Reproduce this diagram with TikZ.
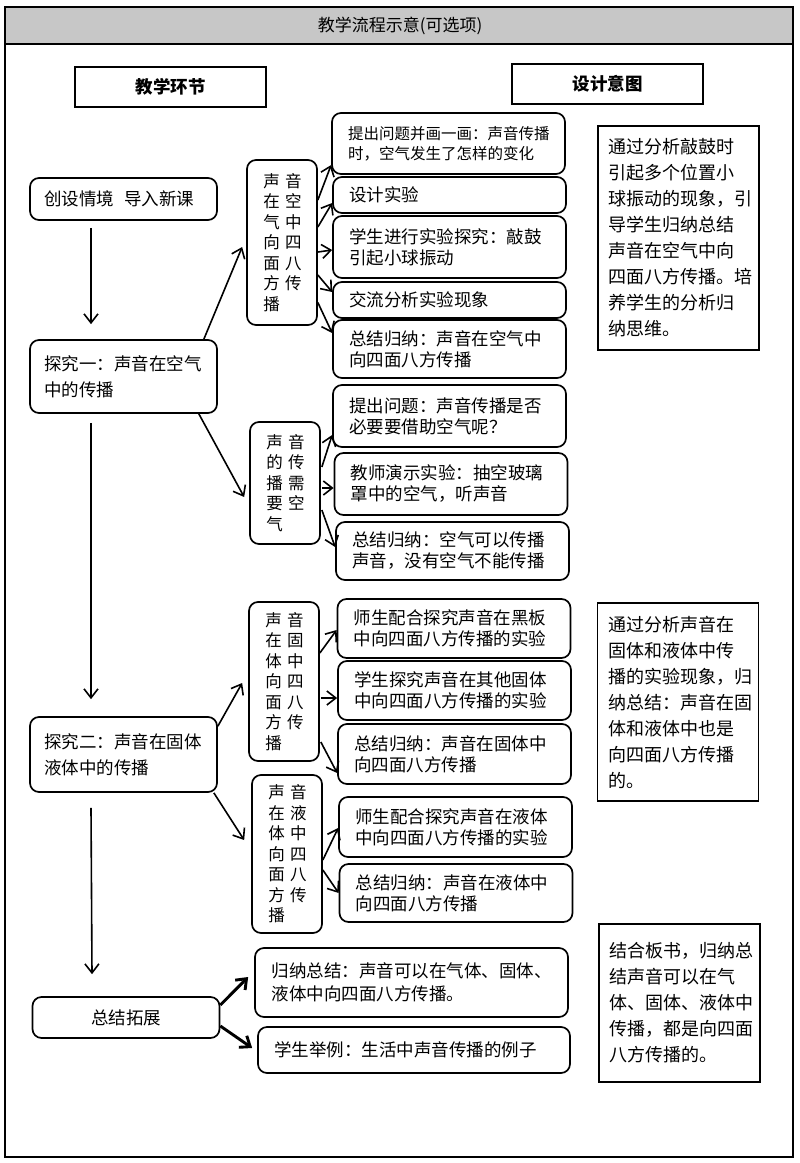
\documentclass[tikz,border=0pt]{standalone}
\usepackage{fontspec}
\setmainfont{Noto Sans CJK SC}
\usetikzlibrary{arrows.meta,positioning,calc}

\begin{document}
\begin{tikzpicture}[
        x=1pt, y=-1pt,
        >={Straight Barb[length=9pt,width=14pt]},
        box/.style={draw, line width=1.7pt, rounded corners=9pt},
        stage/.style={box, text width=158pt, inner xsep=14.5pt, align=left, font=\fontsize{17.5}{26}\selectfont},
        topic/.style={box, text width=37.5pt, inner xsep=16.25pt, align=left, font=\fontsize{16.5}{20.5}\selectfont},
        act/.style={box, text width=201pt, inner xsep=16pt, align=left, font=\fontsize{17.5}{21}\selectfont},
        aim/.style={draw, line width=1.7pt, text width=140pt, inner xsep=10.5pt, align=left, font=\fontsize{18}{26}\selectfont},
        head/.style={draw, line width=1.7pt, minimum width=191pt, minimum height=40pt, font=\bfseries\fontsize{17.5}{21}\selectfont},
        link/.style={->, line width=1.6pt},
        fatlink/.style={->, line width=2.9pt}
    ]
    \useasboundingbox (0,0) rectangle (800,1163);
    \draw[line width=1.5pt, fill=black!22] (5,7) rectangle (793,44);
    \draw[line width=1.5pt] (5,7) rectangle (793,1157);
    \node (title) [font=\fontsize{17}{20}\selectfont] at (400,26) {教学流程示意(可选项)};

    \node (hstep) [head] at (170.5,87) {教学环节};
    \node (haim) [head] at (607.5,84) {设计意图};

    % teaching stages
    \node (intro) [stage, minimum height=42pt] at (123.5,199) {创设情境\hspace{10pt}导入新课};
    \node (inq1) [stage, minimum height=73pt] at (123.5,376.5) {探究一：声音在空气\\中的传播};
    \node (inq2) [stage, minimum height=75pt] at (123.5,754.5) {探究二：声音在固体\\液体中的传播};
    \node (summ) [stage, minimum height=41pt, align=center] at (126,1017.5) {总结拓展};

    \node (air) [topic, minimum height=165pt] at (282,242.5) {声\,\,音\\在\,\,空\\气\,\,中\\向\,\,四\\面\,\,八\\方\,\,传\\播};
    \node (need) [topic, minimum height=122pt] at (285,483) {声\,\,音\\的\,\,传\\播\,\,需\\要\,\,空\\气};
    \node (solid) [topic, minimum height=159pt] at (284,681.5) {声\,\,音\\在\,\,固\\体\,\,中\\向\,\,四\\面\,\,八\\方\,\,传\\播};
    \node (liquid) [topic, minimum height=158pt] at (287,854) {声\,\,音\\在\,\,液\\体\,\,中\\向\,\,四\\面\,\,八\\方\,\,传\\播};

    \node (air1) [act, minimum height=61pt, font=\fontsize{15.5}{20}\selectfont] at (448.5,143.5) {提出问题并画一画：声音传播\\时，空气发生了怎样的变化};
    \node (air2) [act, minimum height=36pt] at (449.5,195) {设计实验};
    \node (air3) [act, minimum height=62pt] at (449.5,247) {学生进行实验探究：敲鼓\\引起小球振动};
    \node (air4) [act, minimum height=36pt] at (449.5,300) {交流分析实验现象};
    \node (air5) [act, minimum height=58pt] at (449.5,349) {总结归纳：声音在空气中\\向四面八方传播};
    \node (need1) [act, minimum height=62pt] at (449.5,416) {提出问题：声音传播是否\\必要要借助空气呢？};
    \node (need2) [act, minimum height=62pt] at (451,484) {教师演示实验：抽空玻璃\\罩中的空气，听声音};
    \node (need3) [act, minimum height=58pt] at (452.5,551) {总结归纳：空气可以传播\\声音，没有空气不能传播};
    \node (sol1) [act, minimum height=59pt] at (454,628.5) {师生配合探究声音在黑板\\中向四面八方传播的实验};
    \node (sol2) [act, minimum height=59pt] at (454.5,690.5) {学生探究声音在其他固体\\中向四面八方传播的实验};
    \node (sol3) [act, minimum height=60pt] at (454.5,754) {总结归纳：声音在固体中\\向四面八方传播};
    \node (liq1) [act, minimum height=60pt] at (455.5,827) {师生配合探究声音在液体\\中向四面八方传播的实验};
    \node (liq2) [act, minimum height=58pt] at (456,893) {总结归纳：声音在液体中\\向四面八方传播};
    \node (sum1) [act, text width=280pt, inner xsep=16.5pt, minimum height=69pt, font=\fontsize{17.5}{23}\selectfont] at (411.5,982.5) {归纳总结：声音可以在气体、固体、\\液体中向四面八方传播。};
    \node (sum2) [act, text width=280pt, minimum height=46pt] at (414,1050) {学生举例：生活中声音传播的例子};

    % design intent
    \node (aim1) [aim, minimum height=224pt] at (678.5,238) {通过分析敲鼓时\\引起多个位置小\\球振动的现象，引\\导学生归纳总结\\声音在空气中向\\四面八方传播。培\\养学生的分析归\\纳思维。};
    \node (aim2) [aim, minimum height=198pt] at (678,702) {通过分析声音在\\固体和液体中传\\播的实验现象，归\\纳总结：声音在固\\体和液体中也是\\向四面八方传播\\的。};
    \node (aim3) [aim, minimum height=158pt] at (679.5,1003) {结合板书，归纳总\\结声音可以在气\\体、固体、液体中\\传播，都是向四面\\八方传播的。};

    \draw[link] ($(intro.south)+(-32.5,7)$) -- ($(inq1.north)+(-32.5,-15)$);
    \draw[link] ($(inq1.south)+(-32.5,9)$) -- ($(inq2.north)+(-32.5,-17)$);
    \draw[link] ($(inq2.south)+(-32.5,15)$) -- ($(summ.north)+(-34,-22)$);
    \draw[link] ($(inq1.north east)+(-14,0)$) -- ($(air.west)+(-4,4.5)$);
    \draw[link] ($(inq1.south east)+(-19,0)$) -- ($(need.west)+(-5,14)$);
    \draw[link] ($(inq2.north east)+(0,10)$) -- ($(solid.west)+(-6,1.5)$);
    \draw[link] ($(inq2.south east)+(-4,0)$) -- ($(liquid.west)+(-7,-14)$);

    \draw[link] ($(air.east)+(0,-42.5)$) -- ($(air1.west)+(0,21.5)$);
    \draw[link] ($(air.east)+(0,-15.5)$) -- ($(air2.west)+(0,8)$);
    \draw[link] ($(air.east)+(0,9.5)$) -- ($(air3.west)+(0,3)$);
    \draw[link] ($(air.east)+(0,32.5)$) -- ($(air4.west)+(0,-8)$);
    \draw[link] ($(air.east)+(0,60)$) -- ($(air5.west)+(0,-16)$);
    \draw[link] ($(need.east)+(1,-16)$) -- ($(need1.west)+(0,19)$);
    \draw[link] ($(need.east)+(1,5)$) -- ($(need2.west)+(0,4)$);
    \draw[link] ($(need.east)+(1,27)$) -- ($(need3.west)+(0,-4)$);
    \draw[link] ($(solid.east)+(0,-28.5)$) -- ($(sol1.west)+(0,1.5)$);
    \draw[link] ($(solid.east)+(1,16.5)$) -- ($(sol2.west)+(0,7.5)$);
    \draw[link] ($(solid.east)+(1,60.5)$) -- ($(sol3.west)+(0,19)$);
    \draw[link] ($(liquid.east)+(0,6)$) -- ($(liq1.west)+(0,1)$);
    \draw[link] ($(liquid.east)+(0,16)$) -- ($(liq2.west)$);

    \draw[fatlink] ($(summ.east)+(0,-12.5)$) -- ($(sum1.west)+(-6,-5.5)$);
    \draw[fatlink] ($(summ.east)+(0,8.5)$) -- ($(sum2.west)+(-5,-2)$);
\end{tikzpicture}
\end{document}
